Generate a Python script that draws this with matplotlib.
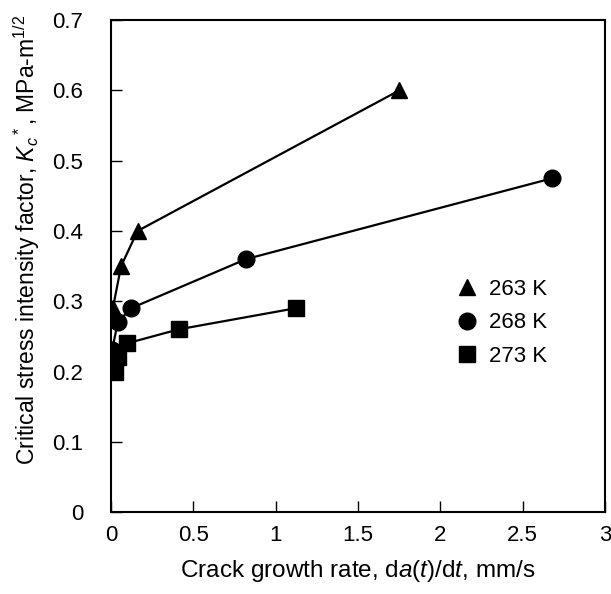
import numpy as np
import matplotlib.pyplot as plt

plt.rcParams['font.family'] = ['Liberation Sans', 'DejaVu Sans']
plt.rcParams['mathtext.fontset'] = 'custom'
plt.rcParams['mathtext.rm'] = 'Liberation Sans'
plt.rcParams['mathtext.it'] = 'Liberation Sans:italic'

# data
x_263 = [0.01, 0.06, 0.16, 1.75]
k_263 = [0.29, 0.35, 0.40, 0.60]
x_268 = [0.005, 0.04, 0.12, 0.82, 2.68]
k_268 = [0.23, 0.27, 0.29, 0.36, 0.475]
x_273 = [0.025, 0.04, 0.095, 0.41, 1.12]
k_273 = [0.20, 0.22, 0.24, 0.26, 0.29]

fig = plt.figure(figsize=(6.11, 5.94), dpi=100)
ax = fig.add_axes([0.182, 0.138, 0.808, 0.828])

# lines first, markers separately so the legend shows markers only
for xs, ks, m, size, lab in [(x_263, k_263, '^', 12, '263 K'),
                             (x_268, k_268, 'o', 12, '268 K'),
                             (x_273, k_273, 's', 11, '273 K')]:
    ax.plot(xs, ks, '-', color='black', lw=1.6)
    ax.plot(xs, ks, m, color='black', ms=size, label=lab)

ax.set_xlim(0, 3); ax.set_ylim(0, 0.7)
ax.set_xticks([0, 0.5, 1, 1.5, 2, 2.5, 3])
ax.set_xticklabels(['0', '0.5', '1', '1.5', '2', '2.5', '3'])
ax.set_yticks(np.arange(0, 0.71, 0.1))
ax.set_yticklabels(['0', '0.1', '0.2', '0.3', '0.4', '0.5', '0.6', '0.7'])
ax.tick_params(direction='in', length=8, width=1, labelsize=16)
ax.tick_params(axis='x', pad=9)
ax.tick_params(axis='y', pad=20)
for s in ax.spines.values():
    s.set_linewidth(1.5)

ax.set_xlabel(r'Crack growth rate, d$a$($t$)/d$t$, mm/s', fontsize=17.5, labelpad=9)
ax.set_ylabel(r'Critical stress intensity factor, $K_c$$^*$, MPa-m$^{1/2}$', fontsize=16.5)
ax.yaxis.set_label_coords(-0.14, 0.553)

ax.legend(loc='upper left', bbox_to_anchor=(0.698, 0.474), frameon=False, fontsize=16,
          borderpad=0, borderaxespad=0, handlelength=1.0, handletextpad=0.5,
          labelspacing=0.56)

plt.savefig('out.png', dpi=100)
